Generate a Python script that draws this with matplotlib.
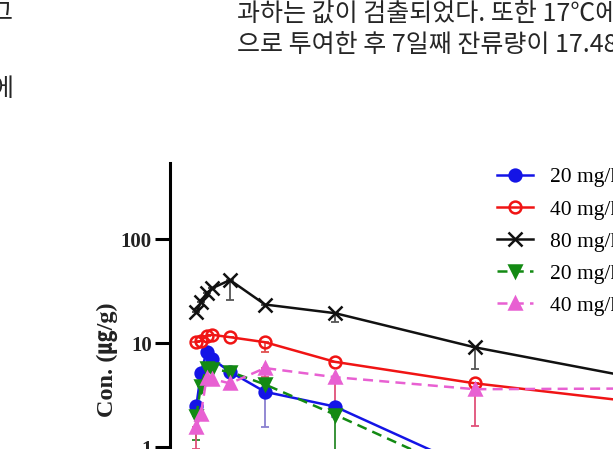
import matplotlib
matplotlib.use("Agg")
import matplotlib.pyplot as plt
from matplotlib.ticker import FixedLocator, NullLocator

# sampling times (days) and mean concentrations (ug/g)
days = [0.04, 0.17, 0.33, 0.5, 1, 2, 4, 8, 16]

blue_20 = [2.5, 5.2, 8.2, 7.0, 5.3, 3.4, 2.45, 0.6, 0.2]
red_40 = [10.2, 10.5, 11.8, 12.0, 11.4, 10.2, 6.6, 4.1, 2.0]
black_80 = [19.9, 24.8, 30.2, 33.8, 40.4, 23.5, 19.4, 9.1, 2.8]
green_20 = [2.0, 3.9, 5.8, 5.6, 5.3, 4.0, 2.05, 0.5, 0.2]
pink_40 = [1.55, 2.1, 4.6, 4.5, 4.1, 5.75, 4.7, 3.6, 3.7]

# lower error bars (SD)
blue_sd = [0, 0, 0, 0, 0, 1.85, 0.5, 0, 0]
red_sd = [0, 0, 0, 0, 0, 2.0, 0, 0.3, 0]
black_sd = [0, 0, 0, 0, 14.5, 0, 3.5, 3.5, 0]
green_sd = [0.83, 0.6, 0, 0, 0, 0, 1.4, 0, 0]
pink_sd = [0.6, 0, 0, 0, 0, 1.0, 2.05, 2.0, 0]

labels = ["20 mg/kg (17\u2103)", "40 mg/kg (17\u2103)", "80 mg/kg (17\u2103)",
          "20 mg/kg (22\u2103)", "40 mg/kg (22\u2103)"]
ytick_vals = [1, 10, 100]
ytick_text = ["1", "10", "100"]

W, H = 613, 449
fig = plt.figure(figsize=(W / 100, H / 100), dpi=100, facecolor='white')

kfont = ['Noto Sans CJK KR', 'DejaVu Sans']
fig.text(237 / W, 1 - 21 / H, "과하는 값이 검출되었다. 또한 17\u2103에서",
         fontsize=18, family=kfont, color='#262626', va='baseline')
fig.text(237 / W, 1 - 52 / H, "으로 투여한 후 7일째 잔류량이 17.48",
         fontsize=18, family=kfont, color='#262626', va='baseline')
fig.text(-10 / W, 1 - 19 / H, "그", fontsize=18, family=kfont, color='#262626', va='baseline')
fig.text(-10 / W, 1 - 96 / H, "에", fontsize=18, family=kfont, color='#262626', va='baseline')

# axes runs off the bottom/right of the page crop
x0, x1 = 170, 895
ytop, ybot = 163, 551
ax = fig.add_axes([x0 / W, 1 - ybot / H, (x1 - x0) / W, (ybot - ytop) / H])
ax.set_yscale('log')
ax.set_xlim(-0.714, 20)
ax.set_ylim(0.1, 540)

series = [
    (blue_20, blue_sd, '#1414e6', '#8a80d0', 'o', '-', 'full'),
    (red_40, red_sd, '#f01414', '#e05050', 'o', '-', 'none'),
    (black_80, black_sd, '#111111', '#555555', 'x', '-', 'full'),
    (green_20, green_sd, '#138a13', '#2a8a2a', 'v', (0, (4, 2.5)), 'full'),
    (pink_40, pink_sd, '#e860d2', '#e0507a', '^', (0, (4, 2.5)), 'full'),
]

for (vals, sd, col, ecol, mk, ls, fill), lab in zip(series, labels):
    lo = [min(s, v * 0.999) for s, v in zip(sd, vals)]
    ax.errorbar(days, vals, yerr=[lo, [0] * len(vals)], fmt='none',
                ecolor=ecol, elinewidth=1.3, capsize=3, capthick=1.3, zorder=2)
    ax.plot(days, vals, color=col, linestyle=ls, linewidth=1.8,
            marker=mk, markersize=8.5 if mk != 'x' else 9.5, markeredgewidth=1.8,
            fillstyle=fill, markerfacecolor=col if fill == 'full' else 'none',
            label=lab, zorder=3)

ax.spines['top'].set_visible(False)
ax.spines['right'].set_visible(False)
ax.spines['left'].set_linewidth(2.2)
ax.spines['bottom'].set_linewidth(2.2)
ax.yaxis.set_major_locator(FixedLocator(ytick_vals))
ax.yaxis.set_minor_locator(NullLocator())
ax.set_yticklabels(ytick_text)
ax.tick_params(axis='y', length=11, width=2.2, pad=2, labelsize=15)
for t in ax.get_yticklabels():
    t.set_family('Liberation Serif')
    t.set_fontweight('bold')
    t.set_color('#222222')
ax.set_xticks([])

fig.text(107 / W, 1 - 360 / H, "Con. (\u338d/g)", rotation=90, ha='center', va='center',
         fontsize=17.5, family=['Liberation Serif', 'Noto Sans CJK KR'], fontweight='bold',
         color='#222222')

leg = fig.legend(loc='upper left', bbox_to_anchor=(497 / W, 1 - 166 / H),
                 frameon=False, borderpad=0, borderaxespad=0,
                 handlelength=1.65, handletextpad=0.8, labelspacing=0.5,
                 prop={'family': ['Liberation Serif', 'Noto Sans CJK KR'], 'size': 15.5})

fig.savefig('out.png', dpi=100, facecolor='white')
